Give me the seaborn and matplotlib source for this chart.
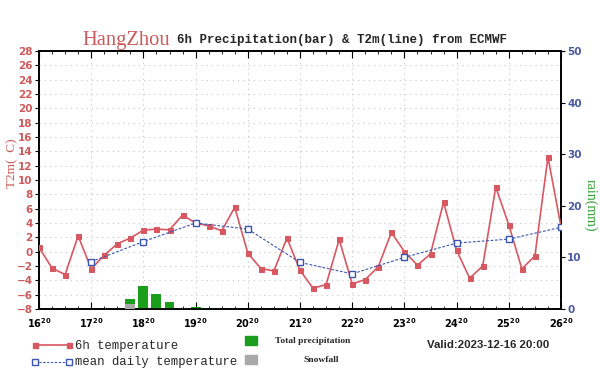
import numpy as np
import pandas as pd
import matplotlib
matplotlib.use("Agg")
import matplotlib.pyplot as plt
import seaborn as sns
from matplotlib.lines import Line2D
from matplotlib.patches import Rectangle
from matplotlib.ticker import MultipleLocator

# ---------------- data ----------------
days = list(range(16, 27))                      # x tick days (hour 20)
temp_6h = [0.6, -2.3, -3.2, 2.2, -2.4, -0.5, 1.1, 1.9, 3.0, 3.15, 3.05, 5.1,
           4.0, 3.6, 2.9, 6.2, -0.2, -2.35, -2.7, 1.9, -2.6, -5.1, -4.6, 1.7,
           -4.5, -3.9, -2.1, 2.7, 0.0, -1.9, -0.3, 6.9, 0.2, -3.7, -2.0, 9.0,
           3.75, -2.4, -0.6, 13.2, 3.5]
mean_daily = [-1.4, 1.4, 4.0, 3.15, -1.5, -3.1, -0.8, 1.2, 1.75, 3.4]   # days 17..26
precip_step = [7, 8, 9, 10, 11, 12, 13]          # 6h step index
precip_total = [1.9, 4.5, 2.9, 1.4, 0.2, 0.4, 0.15]
snowfall = [0.9, 0.0, 0.0, 0.0, 0.0, 0.0, 0.0]

STEP = 0.25  # 6 hours in days
df6 = pd.DataFrame({"t": np.arange(len(temp_6h)) * STEP, "temp": temp_6h})
dfm = pd.DataFrame({"t": np.arange(1, len(mean_daily) + 1, dtype=float), "temp": mean_daily})
dfp = pd.DataFrame({"t": np.array(precip_step) * STEP, "total": precip_total, "snow": snowfall})

RED = "#d85862"
RED_TXT = "#cc5a5a"
BLUE = "#3a56b0"
BLUE_TXT = "#4a5aa0"
GREEN = "#1b9e1b"
GRAY = "#a9a9a9"

sns.set_theme(style="white")
plt.rcParams["font.family"] = ["DejaVu Sans"]

fig = plt.figure(figsize=(6, 3.77), dpi=100)
rect = [39 / 600, 1 - 309 / 377, 522 / 600, 258 / 377]
ax = fig.add_axes(rect)              # temperature axis: grid + left ticks
ax2 = ax.twinx()                     # rain axis: bars + right ticks
ax3 = fig.add_axes(rect, sharex=ax, sharey=ax)   # lines on top
ax3.set_axis_off()
ax3.patch.set_visible(False)

# bars (rain axis)
ax2.bar(dfp["t"], dfp["total"], width=0.19, color=GREEN, edgecolor="none", zorder=2)
ax2.bar(dfp["t"], dfp["snow"], width=0.19, color=GRAY, edgecolor="none", zorder=3)
ax2.set_ylim(0, 50)
ax2.set_yticks(range(0, 51, 10))
ax2.grid(False)

# lines (temperature scale)
sns.lineplot(data=df6, x="t", y="temp", ax=ax3, color=RED, marker="s", markersize=3.6,
             markeredgecolor=RED, linewidth=1.2, zorder=4)
sns.lineplot(data=dfm, x="t", y="temp", ax=ax3, color=BLUE, marker="s", markersize=4.8,
             markerfacecolor="white", markeredgecolor=BLUE, markeredgewidth=1.0,
             linewidth=0.8, linestyle=(0, (2.5, 1.5)), zorder=5)

ax.set_xlim(0, 10)
ax.set_ylim(-8, 28)
ax.set_yticks(range(-8, 29, 2))
ax.set_xticks(range(0, 11))
ax.set_xticklabels([rf"$\bf{{{d}^{{20}}}}$" for d in days])
ax.xaxis.set_minor_locator(MultipleLocator(STEP))
for a in (ax, ax2, ax3):
    a.set_xlabel("")
    a.set_ylabel("")

ax.grid(True, which="major", linestyle=(0, (1.2, 3.5)), color="#cfcfcf", linewidth=0.8)

ax.tick_params(axis="x", which="both", direction="in", top=True, bottom=True,
               labelsize=7, colors="black", pad=5)
ax.tick_params(axis="x", which="major", length=5, width=0.8)
ax.tick_params(axis="x", which="minor", length=2.5, width=0.6)
ax.tick_params(axis="y", which="major", direction="out", left=True, length=3, width=0.8,
               color="black", labelcolor=RED_TXT, labelsize=7.5, pad=1.5)
ax2.tick_params(axis="y", which="major", direction="out", right=True, length=3, width=0.8,
                color="black", labelcolor=BLUE_TXT, labelsize=7.5, pad=1.5)
for lab in ax.get_yticklabels() + ax2.get_yticklabels():
    lab.set_fontweight("bold")

for a in (ax, ax2):
    for s in a.spines.values():
        s.set_color("black")
        s.set_linewidth(1.2)
        s.set_visible(True)

# titles / labels
fig.text(82 / 600, 1 - 40 / 377, "HangZhou", color=RED_TXT, family="Liberation Serif",
         fontsize=14.8, ha="left", va="center")
fig.text(177 / 600, 1 - 40 / 377, "6h Precipitation(bar) & T2m(line) from ECMWF",
         family="Liberation Mono", fontweight="bold", fontsize=9, ha="left", va="center")
fig.text(12 / 600, 1 - 163 / 377, "T2m(  C)", rotation=90, color=RED_TXT,
         family="Liberation Serif", fontsize=9.5, ha="center", va="center")
fig.text(590 / 600, 1 - 205 / 377, "rain(mm)", rotation=270, color="#30a030",
         family="Liberation Serif", fontsize=10, ha="center", va="center")

# legend (figure-level)
def fy(py):
    return 1 - py / 377

fig.add_artist(Line2D([35 / 600, 69 / 600], [fy(345)] * 2, color=RED, lw=1.2,
                      marker="s", markersize=3.6, markeredgecolor=RED,
                      transform=fig.transFigure))
fig.text(75 / 600, fy(346), "6h temperature", family="Liberation Mono", fontsize=8.8,
         ha="left", va="center")
fig.add_artist(Line2D([35 / 600, 69 / 600], [fy(361.5)] * 2, color=BLUE, lw=0.8,
                      linestyle=(0, (2, 1.5)), marker="s", markersize=4.8,
                      markerfacecolor="white", markeredgecolor=BLUE,
                      transform=fig.transFigure))
fig.text(75 / 600, fy(362), "mean daily temperature", family="Liberation Mono",
         fontsize=8.8, ha="left", va="center")
fig.add_artist(Rectangle((245 / 600, fy(345)), 12 / 600, 9 / 377, color=GREEN,
                         transform=fig.transFigure))
fig.add_artist(Rectangle((245 / 600, fy(363.5)), 12 / 600, 9 / 377, color=GRAY,
                         transform=fig.transFigure))
fig.text(275 / 600, fy(341), "Total precipitation", family="Liberation Serif",
         fontweight="bold", fontsize=6.8, ha="left", va="center")
fig.text(303 / 600, fy(360), "Snowfall", family="Liberation Serif",
         fontweight="bold", fontsize=6.8, ha="left", va="center")
fig.text(427 / 600, fy(345.5), "Valid:2023-12-16 20:00", family="Liberation Sans",
         fontweight="bold", fontsize=8.2, ha="left", va="center")

fig.savefig("out.png", dpi=100)
